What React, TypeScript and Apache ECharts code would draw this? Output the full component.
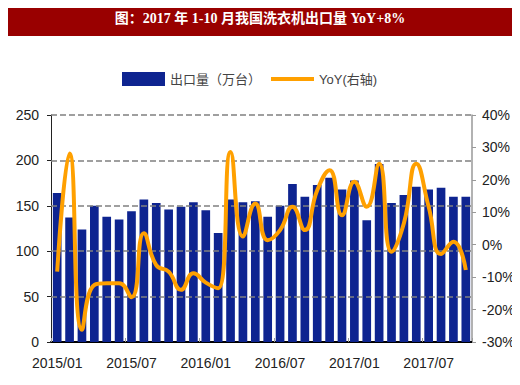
import React, { useEffect, useRef } from "react";
import * as echarts from "echarts";

const categories = [
  "2015/01","2015/02","2015/03","2015/04","2015/05","2015/06","2015/07","2015/08","2015/09","2015/10","2015/11","2015/12",
  "2016/01","2016/02","2016/03","2016/04","2016/05","2016/06","2016/07","2016/08","2016/09","2016/10","2016/11","2016/12",
  "2017/01","2017/02","2017/03","2017/04","2017/05","2017/06","2017/07","2017/08","2017/09","2017/10",
];
const exportVolume = [
  164, 137, 124, 150, 138, 135, 144, 157, 153, 146, 149, 154,
  145, 120, 157, 154, 155, 138, 150, 174, 160, 173, 181, 168,
  178, 134, 196, 153, 162, 171, 168, 170, 160, 160,
];
const yoy = [
  -8.3, 28.1, -26.2, -12.4, -11.9, -11.9, -16.2, 3.5, -6.3, -8.3, -13.9, -8.8,
  -11.7, -13.4, 28.6, 2.5, 12.7, 1.4, 4.5, 11.7, 4.5, 16.8, 23.0, 9.1,
  19.4, 11.7, 25.0, -2.2, 6.6, 25.0, 11.7, -2.9, 0.9, -7.8,
];
const leftTicks = [50, 100, 150, 200, 250];
const titleText = "图：2017 年 1-10 月我国洗衣机出口量 YoY+8%";
const barName = "出口量（万台）";
const lineName = "YoY(右轴)";

export default function App() {
  const ref = useRef<HTMLDivElement>(null);
  useEffect(() => {
    if (!ref.current) return;
    const chart = echarts.init(ref.current, null, { renderer: "svg" });
    const latin = "Liberation Sans, Arial, Noto Sans CJK SC, sans-serif";
    chart.setOption({
      animation: false,
      backgroundColor: "#ffffff",
      graphic: [
        { type: "rect", left: 0, top: 0, shape: { width: 517, height: 36 }, style: { fill: "#990000" }, z: 10 },
        {
          type: "text", x: 260, y: 18, z: 11,
          style: {
            text: titleText, fill: "#ffffff", fontSize: 14, fontWeight: "bold",
            fontFamily: "Liberation Serif, Noto Sans CJK SC, serif", align: "center", verticalAlign: "middle",
          },
        },
      ],
      legend: {
        left: 117, top: 67, itemWidth: 43, itemHeight: 14, itemGap: 10, itemTextGap: 4,
        symbolKeepAspect: true,
        textStyle: { fontSize: 13, color: "#444", fontFamily: latin },
        data: [
          { name: barName, icon: "rect" },
          { name: lineName, icon: "path://M0,0L43,0L43,4L0,4Z", itemStyle: { color: "#FFA000" } },
        ],
      },
      grid: { left: 51, right: 48, top: 115, bottom: 43 },
      xAxis: {
        type: "category", data: categories, boundaryGap: true,
        axisLine: { lineStyle: { color: "#000", width: 2 } },
        axisTick: { show: true, interval: 5, inside: true, length: 4, lineStyle: { color: "#999" } },
        axisLabel: { interval: 5, margin: 14, fontSize: 14, color: "#222", fontFamily: latin },
      },
      yAxis: [
        {
          type: "value", min: 0, max: 250, interval: 50,
          axisLine: { show: true, lineStyle: { color: "#222" } },
          axisTick: { show: true, length: 4, lineStyle: { color: "#222" } },
          axisLabel: { fontSize: 14, color: "#222", margin: 12, fontFamily: latin },
          splitLine: { show: false },
        },
        {
          type: "value", min: -30, max: 40, interval: 10,
          axisLine: { show: true, lineStyle: { color: "#999", width: 1.5 } },
          axisTick: { show: true, length: 4, lineStyle: { color: "#999" } },
          axisLabel: { fontSize: 14, color: "#222", margin: 10, formatter: "{value}%", fontFamily: latin },
          splitLine: { show: false },
        },
      ],
      series: [
        {
          name: barName, type: "bar", data: exportVolume, yAxisIndex: 0, barCategoryGap: "30%",
          itemStyle: { color: "#0E2490" },
          markLine: {
            silent: true, symbol: ["none", "none"], label: { show: false },
            lineStyle: { type: [6, 3], color: "#808080", width: 1.5 },
            data: leftTicks.map((v) => ({ yAxis: v })),
          },
        },
        {
          name: lineName, type: "line", data: yoy, yAxisIndex: 1, smooth: 0.5,
          symbol: "none", showSymbol: false,
          lineStyle: { color: "#FFA000", width: 4 }, itemStyle: { color: "#FFA000" }, z: 5,
        },
      ],
    });
    return () => chart.dispose();
  }, []);
  return <div ref={ref} style={{ width: 520, height: 385, margin: -8 }} />;
}
